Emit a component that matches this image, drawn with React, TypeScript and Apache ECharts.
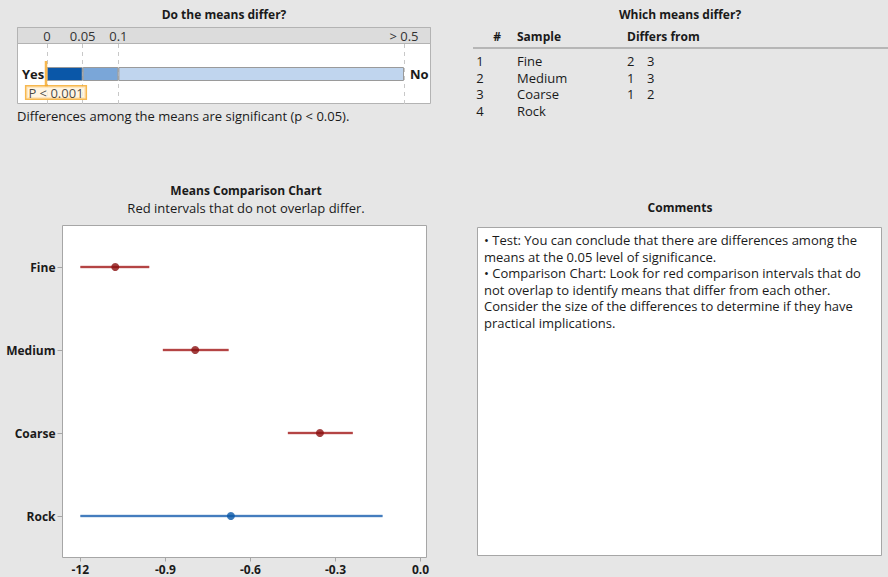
import React, { useEffect, useRef } from "react";
import * as echarts from "echarts";

// Means comparison data (interval low, mean, interval high)
const samples = ["Fine", "Medium", "Coarse", "Rock"];
const means = [-1.077, -0.795, -0.355, -0.669];
const lows = [-1.2, -0.909, -0.468, -1.2];
const highs = [-0.957, -0.677, -0.239, -0.134];
const differs = [true, true, true, false];
const differsFrom: number[][] = [[2, 3], [1, 3], [1, 2], []];
const xTickValues = [-1.2, -0.9, -0.6, -0.3, 0];
const xTickLabels = ["-12", "-0.9", "-0.6", "-0.3", "0.0"];
const xRange = [-1.263, 0.021];

// p-value gauge: tick labels, their positions on the gauge, and the zones
const pTickLabels = ["0", "0.05", "0.1", "> 0.5"];
const pTickPos = [0, 0.1, 0.2, 1];
const pZones = [0.1, 0.1, 0.8];
const pZoneColors = ["#0a57a8", "#7aa6d8", "#c0d5ee"];
const pValuePos = 0;
const pValueLabel = "P < 0.001";

const comments = [
  "• Test: You can conclude that there are differences among the",
  "means at the 0.05 level of significance.",
  "• Comparison Chart: Look for red comparison intervals that do",
  "not overlap to identify means that differ from each other.",
  "Consider the size of the differences to determine if they have",
  "practical implications.",
];

const FONT = "'Open Sans', 'Noto Sans', sans-serif";
const RED = "#a41c1c";
const RED_DOT = "#8a1010";
const BLUE = "#1d62b0";
const BLUE_DOT = "#0a57a8";

function txt(text: string, x: number, y: number, opts: any = {}) {
  return {
    type: "text",
    x,
    y,
    silent: true,
    style: {
      text,
      fill: "#1a1a1a",
      font: `${opts.bold ? "bold " : ""}${opts.size || (opts.bold ? 12 : 13)}px ${FONT}`,
      textAlign: opts.align || "left",
      textVerticalAlign: "middle",
    },
  };
}

export default function App() {
  const ref = useRef<HTMLDivElement>(null);

  useEffect(() => {
    if (!ref.current) return;
    const chart = echarts.init(ref.current, undefined, { renderer: "svg" });

    const graphics: any[] = [
      // top-left panel
      txt("Do the means differ?", 224, 14, { bold: true, align: "center" }),
      {
        type: "rect",
        shape: { x: 17.5, y: 27.5, width: 413, height: 76 },
        style: { fill: "#ffffff", stroke: "#b3b3b3", lineWidth: 1 },
        z: -2,
      },
      {
        type: "rect",
        shape: { x: 17.5, y: 27.5, width: 413, height: 16 },
        style: { fill: "#dcdcdc", stroke: "#b3b3b3", lineWidth: 1 },
        z: -1,
      },
      txt("Yes", 22, 74, { bold: true, size: 13 }),
      txt("No", 410, 74, { bold: true, size: 13 }),
      txt("Differences among the means are significant (p < 0.05).", 17, 116),

      // top-right table
      txt("Which means differ?", 680, 14, { bold: true, align: "center" }),
      txt("#", 497, 36, { bold: true, align: "center" }),
      txt("Sample", 517, 36, { bold: true }),
      txt("Differs from", 627, 36, { bold: true }),
      {
        type: "line",
        shape: { x1: 473, y1: 48, x2: 888, y2: 48 },
        style: { stroke: "#a6a6a6", lineWidth: 1.5 },
      },

      // means comparison chart titles
      txt("Means Comparison Chart", 246, 190, { bold: true, align: "center" }),
      txt("Red intervals that do not overlap differ.", 246, 208, { align: "center" }),

      // comments
      txt("Comments", 680, 207, { bold: true, align: "center" }),
      {
        type: "rect",
        shape: { x: 477.5, y: 227.5, width: 404, height: 328 },
        style: { fill: "#ffffff", stroke: "#a6a6a6", lineWidth: 1 },
        z: -2,
      },
    ];

    samples.forEach((s, i) => {
      const y = 61 + i * 16.7;
      graphics.push(txt(String(i + 1), 480, y, { align: "center" }));
      graphics.push(txt(s, 517, y));
      differsFrom[i].forEach((d, j) => {
        graphics.push(txt(String(d), 627 + j * 20, y));
      });
    });

    comments.forEach((line, i) => {
      graphics.push(txt(line, 484, 240 + i * 16.6));
    });

    const zoneSeries = pZones.map((w, i) => ({
      type: "bar",
      xAxisIndex: 0,
      yAxisIndex: 0,
      stack: "gauge",
      barWidth: 14,
      data: [w],
      itemStyle: { color: pZoneColors[i], borderColor: "#9a9a9a", borderWidth: 1 },
      silent: true,
      z: 3,
      markLine:
        i === 0
          ? {
              silent: true,
              symbol: "none",
              label: { show: false },
              lineStyle: { color: "#c8c8c8", type: [4, 4], width: 1 },
              data: pTickPos.map((v) => ({ xAxis: v })),
              z: 1,
            }
          : undefined,
    }));

    chart.setOption({
      animation: false,
      backgroundColor: "#e6e6e6",
      textStyle: { fontFamily: FONT },
      graphic: graphics,
      grid: [
        { left: 47, right: 888 - 404, top: 44, height: 60 },
        {
          left: 62.5,
          right: 888 - 426.5,
          top: 225.5,
          height: 332,
          show: true,
          backgroundColor: "#ffffff",
          borderColor: "#a6a6a6",
          borderWidth: 1,
        },
      ],
      xAxis: [
        {
          gridIndex: 0,
          type: "value",
          position: "top",
          min: 0,
          max: 1,
          interval: 0.1,
          axisLine: { show: false },
          axisTick: { show: false },
          splitLine: { show: false },
          axisLabel: {
            margin: 2,
            fontSize: 13,
            color: "#333",
            fontFamily: FONT,
            formatter: (v: number) => {
              const k = pTickPos.findIndex((p) => Math.abs(p - v) < 1e-6);
              return k >= 0 ? pTickLabels[k] : "";
            },
          },
        },
        {
          gridIndex: 1,
          type: "value",
          position: "bottom",
          min: xRange[0],
          max: xRange[1],
          axisLine: { show: false, onZero: false },
          axisTick: {
            show: true,
            length: 4,
            customValues: xTickValues,
            lineStyle: { color: "#a6a6a6" },
          },
          splitLine: { show: false },
          axisLabel: {
            margin: 6,
            fontSize: 12,
            fontWeight: "bold",
            color: "#1a1a1a",
            fontFamily: FONT,
            customValues: xTickValues,
            formatter: (v: number) => {
              const k = xTickValues.findIndex((p) => Math.abs(p - v) < 1e-6);
              return k >= 0 ? xTickLabels[k] : "";
            },
          },
        },
      ],
      yAxis: [
        {
          gridIndex: 0,
          type: "category",
          data: ["p"],
          show: false,
        },
        {
          gridIndex: 1,
          type: "category",
          position: "left",
          data: samples,
          inverse: true,
          axisLine: { show: false, onZero: false },
          axisTick: { show: true, length: 5, alignWithLabel: true, lineStyle: { color: "#a6a6a6" } },
          axisLabel: {
            margin: 7,
            fontSize: 12,
            fontWeight: "bold",
            color: "#1a1a1a",
            fontFamily: FONT,
          },
          splitLine: { show: false },
        },
      ],
      series: [
        ...zoneSeries,
        {
          type: "scatter",
          xAxisIndex: 0,
          yAxisIndex: 0,
          data: [[pValuePos, "p"]],
          symbol: "rect",
          symbolSize: [2.5, 26],
          symbolOffset: [-1, 0],
          itemStyle: { color: "#f5a623" },
          z: 5,
          label: {
            show: true,
            position: "bottom",
            distance: -0.5,
            offset: [10, 0],
            formatter: pValueLabel,
            fontSize: 13,
            fontFamily: FONT,
            color: "#1a1a1a",
            backgroundColor: "#fff3dc",
            borderColor: "#f5a623",
            borderWidth: 1.5,
            padding: [0, 2, -1, 2],
            lineHeight: 13,
          },
        },
        {
          type: "custom",
          xAxisIndex: 1,
          yAxisIndex: 1,
          data: samples.map((s, i) => [lows[i], highs[i], i]),
          renderItem: (params: any, api: any) => {
            const i = api.value(2);
            const a = api.coord([api.value(0), i]);
            const b = api.coord([api.value(1), i]);
            const c = differs[i] ? RED : BLUE;
            return {
              type: "group",
              children: [
                {
                  type: "line",
                  shape: { x1: a[0], y1: a[1], x2: b[0], y2: b[1] },
                  style: { stroke: c, lineWidth: 3, opacity: 0.3 },
                },
                {
                  type: "line",
                  shape: { x1: a[0], y1: a[1], x2: b[0], y2: b[1] },
                  style: { stroke: c, lineWidth: 1.3 },
                },
              ],
            };
          },
          z: 3,
        },
        {
          type: "scatter",
          xAxisIndex: 1,
          yAxisIndex: 1,
          symbol: "circle",
          symbolSize: 8,
          data: samples.map((s, i) => ({
            value: [means[i], s],
            itemStyle: { color: differs[i] ? RED_DOT : BLUE_DOT },
          })),
          z: 4,
        },
      ],
    });

    return () => chart.dispose();
  }, []);

  return (
    <div
      ref={ref}
      style={{ position: "fixed", left: 0, top: 0, width: 888, height: 577 }}
    />
  );
}
